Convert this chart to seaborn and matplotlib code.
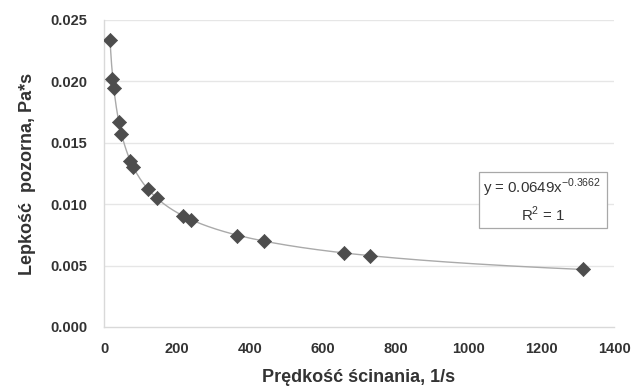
import numpy as np
import pandas as pd
import matplotlib
matplotlib.use("Agg")
import matplotlib.pyplot as plt
from matplotlib.patches import Rectangle
import seaborn as sns

# Data
shear_rate = [16.5, 23, 27, 41, 46, 70, 79, 122, 145, 218, 240, 364, 438, 658, 730, 1315]
viscosity = [0.0234, 0.0202, 0.0195, 0.0167, 0.0157, 0.0135, 0.0130, 0.0112, 0.0105,
             0.0090, 0.0087, 0.0074, 0.0070, 0.0060, 0.0058, 0.0047]
x_ticks = [0, 200, 400, 600, 800, 1000, 1200, 1400]
y_ticks = [0.000, 0.005, 0.010, 0.015, 0.020, 0.025]
x_label = "Prędkość ścinania, 1/s"
y_label = "Lepkość  pozorna, Pa*s"
fit_a = "0.0649"
fit_b = "-0.3662"

sns.set_theme(style="white")
plt.rcParams['font.family'] = ['Liberation Sans', 'DejaVu Sans']
plt.rcParams['mathtext.fontset'] = 'custom'
plt.rcParams['mathtext.rm'] = 'Liberation Sans'

df = pd.DataFrame({"x": shear_rate, "y": viscosity})
xf = np.linspace(min(shear_rate), max(shear_rate), 300)
trend = pd.DataFrame({"x": xf, "y": float(fit_a) * xf ** float(fit_b)})

fig = plt.figure(figsize=(6.32, 3.92), dpi=100)
ax = fig.add_axes([0.1646, 0.166, 0.807, 0.783])

for yt in y_ticks[1:]:
    ax.axhline(yt, color="#e6e6e6", lw=1.0, zorder=0)

sns.lineplot(data=trend, x="x", y="y", ax=ax, color="#aaaaaa", lw=1.0, zorder=2)
sns.scatterplot(data=df, x="x", y="y", ax=ax, marker="D", s=52, color="#4d4d4d",
                edgecolor="#4d4d4d", linewidth=0.5, zorder=3)

ax.set_xlim(0, 1400)
ax.set_ylim(0, 0.025)
ax.set_xticks(x_ticks)
ax.set_yticks(y_ticks)
ax.set_xticklabels([str(t) for t in x_ticks])
ax.set_yticklabels([f"{t:.3f}" for t in y_ticks])
for sp in ["top", "right"]:
    ax.spines[sp].set_visible(False)
for sp in ["left", "bottom"]:
    ax.spines[sp].set_color("#d9d9d9")
    ax.spines[sp].set_linewidth(1.0)
ax.tick_params(axis="x", length=4, color="#d9d9d9", width=1, pad=7,
               labelsize=10.5, labelcolor="#333333")
ax.tick_params(axis="y", length=4, color="#d9d9d9", width=1, pad=8,
               labelsize=10.5, labelcolor="#333333")
for lbl in ax.get_xticklabels() + ax.get_yticklabels():
    lbl.set_fontweight("bold")

ax.set_xlabel(x_label, fontsize=13, fontweight="bold", color="#333333", labelpad=9)
ax.set_ylabel(y_label, fontsize=13, fontweight="bold", color="#333333", labelpad=10)

# equation box
ax.add_patch(Rectangle((0.735, 0.3225), 0.251, 0.182, transform=ax.transAxes,
                       facecolor="white", edgecolor="#a8a8a8", lw=0.9, zorder=4))
ax.text(0.859, 0.452, f"y = {fit_a}x$^{{\\mathregular{{{fit_b}}}}}$",
        transform=ax.transAxes, ha="center", va="center", fontsize=10.8,
        color="#333333", zorder=5)
ax.text(0.861, 0.368, "R$^{\\mathregular{2}}$ = 1",
        transform=ax.transAxes, ha="center", va="center", fontsize=10.8,
        color="#333333", zorder=5)

fig.savefig("out.png", dpi=100)
